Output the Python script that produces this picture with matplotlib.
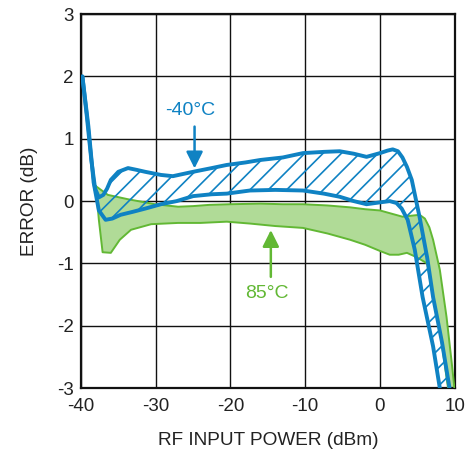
import matplotlib
matplotlib.use("Agg")
import matplotlib.pyplot as plt
import numpy as np

plt.rcParams["font.family"] = ["Liberation Sans", "DejaVu Sans"]
plt.rcParams["axes.unicode_minus"] = False

# =========================
# data
# =========================

cold_hi_x = [-39.8, -39.2, -38.6, -38.1, -37.6, -37.0, -36.5, -36.0, -35.0, -33.7, -32.5, -31.4,
             -29.3, -27.7, -25.0, -22.5, -20.5, -18.0, -16.0, -13.0, -10.3, -7.5, -5.4,
             -3.5, -1.8, 0.0, 1.0, 1.7, 2.4, 3.0, 3.6, 4.25, 5.3, 6.3, 7.1, 8.3, 9.3]
cold_hi_y = [2.0, 1.35, 0.65, 0.2, 0.06, 0.1, 0.2, 0.34, 0.47, 0.53, 0.5, 0.47,
             0.42, 0.40, 0.47, 0.53, 0.58, 0.62, 0.66, 0.70, 0.77, 0.79, 0.80,
             0.76, 0.71, 0.77, 0.81, 0.83, 0.80, 0.70, 0.55, 0.34, -0.26, -0.90, -1.54, -2.27, -3.0]

cold_lo_x = [-39.8, -39.0, -38.3, -37.6, -36.7, -35.8, -34.7, -33.0, -31.4, -29.3, -27.2,
             -25.0, -22.5, -20.5, -17.4, -14.0, -10.3, -7.5, -5.4, -3.5, -1.8, 0.0,
             1.3, 2.2, 2.9, 3.7, 4.65, 5.7, 7.1, 8.0]
cold_lo_y = [2.0, 1.2, 0.3, -0.15, -0.3, -0.28, -0.22, -0.17, -0.12, -0.05, 0.0,
             0.08, 0.11, 0.12, 0.17, 0.18, 0.17, 0.12, 0.07, 0.0, -0.05, -0.02,
             0.0, -0.03, -0.12, -0.3, -0.78, -1.54, -2.33, -3.0]

hot_hi_x = [-38.0, -36.4, -33.7, -30.1, -27.0, -25.0, -22.8, -20.0, -16.0, -13.0, -10.3,
            -7.0, -4.0, -2.0, 0.0, 1.5, 3.0, 4.5, 5.3, 6.0, 6.6, 7.1, 8.0, 8.9, 9.6, 9.95]
hot_hi_y = [0.24, 0.1, 0.03, -0.05, -0.09, -0.08, -0.06, -0.05, -0.04, -0.05, -0.05,
            -0.07, -0.1, -0.13, -0.15, -0.2, -0.25, -0.23, -0.22, -0.28, -0.42, -0.62, -1.1,
            -1.86, -2.6, -3.0]

hot_lo_x = [-38.0, -37.6, -37.1, -36.0, -34.8, -33.3, -30.6, -27.0, -24.0, -20.5, -17.4,
            -14.0, -10.3, -7.0, -4.0, -2.0, 0.0, 1.3, 2.5, 3.6, 4.9, 6.3, 7.2, 8.0, 9.1]
hot_lo_y = [0.24, -0.3, -0.82, -0.83, -0.62, -0.46, -0.37, -0.35, -0.35, -0.33, -0.36,
            -0.4, -0.43, -0.52, -0.62, -0.7, -0.8, -0.86, -0.86, -0.83, -0.9, -1.0,
            -1.6, -2.06, -3.0]

x_ticks = [-40, -30, -20, -10, 0, 10]
y_ticks = [-3, -2, -1, 0, 1, 2, 3]

blue = "#0f82c3"
green = "#62b834"
green_fill = "#b0db97"

# =========================
# plot
# =========================

fig = plt.figure(figsize=(4.65, 4.55), dpi=100)
ax = fig.add_axes([0.174, 0.147, 0.804, 0.822])

# 85C band
ax.fill(hot_hi_x + hot_lo_x[::-1], hot_hi_y + hot_lo_y[::-1],
        facecolor=green_fill, edgecolor="none", zorder=2)
ax.plot(hot_hi_x, hot_hi_y, color=green, lw=1.4, zorder=3)
ax.plot(hot_lo_x, hot_lo_y, color=green, lw=1.4, zorder=3)

# -40C band: outline polygon + own diagonal hatch clipped to it
band = ax.fill(cold_hi_x + cold_lo_x[::-1], cold_hi_y + cold_lo_y[::-1],
               facecolor="none", edgecolor="none", zorder=4)[0]
step = 0.049  # hatch spacing in axes fraction (axes is square on screen)
for c in np.arange(-1.0, 1.0, step):
    ln, = ax.plot([0, 1], [c, c + 1], transform=ax.transAxes,
                  color=blue, lw=1.2, zorder=4)
    ln.set_clip_path(band)

ax.plot(cold_hi_x, cold_hi_y, color=blue, lw=2.8, zorder=5,
        solid_capstyle="round", solid_joinstyle="round")
ax.plot(cold_lo_x, cold_lo_y, color=blue, lw=2.8, zorder=5,
        solid_capstyle="round", solid_joinstyle="round")

# labels
ax.annotate("", xy=(-24.8, 0.48), xytext=(-24.8, 1.24),
            arrowprops=dict(arrowstyle="-|>,head_width=0.5,head_length=1.0",
                            color=blue, lw=1.8), zorder=6)
ax.text(-25.4, 1.46, "-40°C", color=blue, fontsize=14, ha="center", va="center", zorder=6)

ax.annotate("", xy=(-14.6, -0.42), xytext=(-14.6, -1.26),
            arrowprops=dict(arrowstyle="-|>,head_width=0.5,head_length=1.0",
                            color=green, lw=1.8), zorder=6)
ax.text(-15.1, -1.49, "85°C", color=green, fontsize=14, ha="center", va="center", zorder=6)

ax.set_xlim(-40, 10)
ax.set_ylim(-3, 3)
ax.set_xticks(x_ticks)
ax.set_yticks(y_ticks)
ax.grid(True, color="#111111", lw=1.0, zorder=1)
ax.set_axisbelow(True)
ax.tick_params(length=0, labelsize=13.5, colors="#222222", pad=7)
ax.tick_params(axis="y", pad=5)
for s in ax.spines.values():
    s.set_linewidth(1.6)
    s.set_color("#111111")

ax.set_xlabel("RF INPUT POWER (dBm)", fontsize=13.7, color="#222222", labelpad=12)
ax.set_ylabel("ERROR (dB)", fontsize=13.7, color="#222222", labelpad=14)

fig.savefig("out.png", dpi=100, facecolor="white")
